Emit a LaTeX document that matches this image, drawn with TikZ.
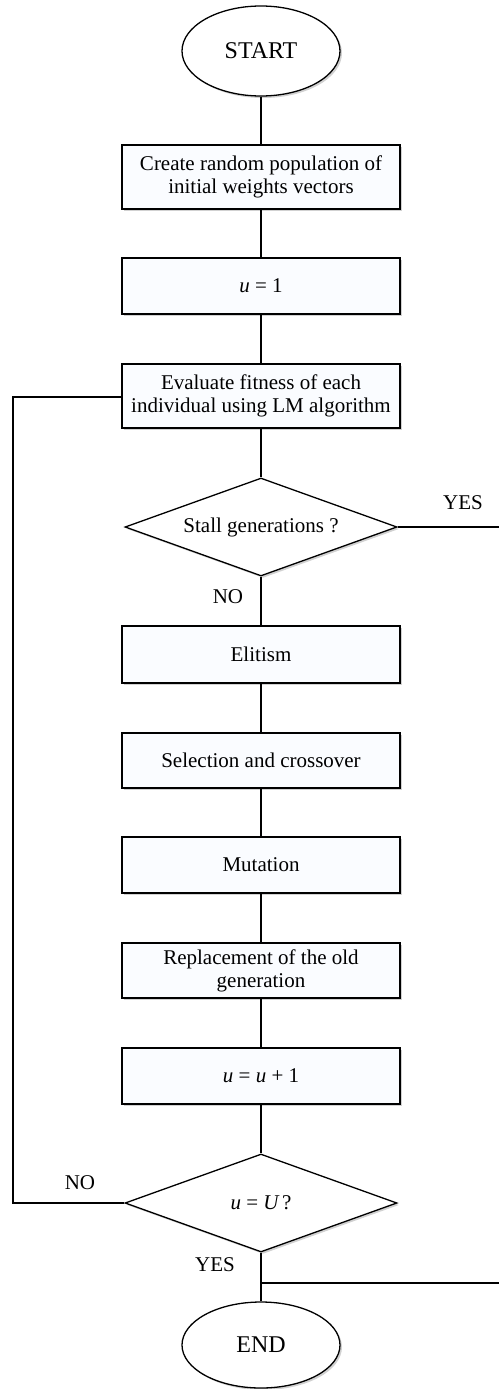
\documentclass[tikz,border=0pt]{standalone}
\usepackage{fontspec}
\setmainfont{Liberation Serif}
\usetikzlibrary{shapes.geometric,shadows}
\definecolor{boxfill}{HTML}{FAFCFF}
\begin{document}
\begin{tikzpicture}[x=1pt,y=-1pt,
  every node/.style={font=\fontsize{21}{23}\selectfont},
  line/.style={line width=1.3pt},
  shade/.style={drop shadow={shadow xshift=2pt,shadow yshift=-2pt,fill=black!30,opacity=0.6}},
  proc/.style={draw,line width=1.3pt,fill=boxfill,shade,rectangle,minimum width=278pt,align=center,inner sep=0pt},
  term/.style={draw,line width=1.3pt,fill=white,shade,ellipse,minimum width=158pt,inner sep=0pt,font=\fontsize{24}{26}\selectfont},
  dec/.style={draw,line width=1.3pt,fill=white,shade,diamond,aspect=2.78,inner sep=0pt,minimum width=272pt,minimum height=98pt},
  lab/.style={inner sep=0pt}]
\useasboundingbox (0,0) rectangle (499,1389);
\node[term,minimum height=90pt] (start) at (261,51) {START};
\node[proc,minimum height=64pt] (create) at (261,177) {Create random population of\\initial weights vectors};
\node[proc,minimum height=56pt] (u1) at (261,286) {{\itshape u} = 1};
\node[proc,minimum height=64pt] (eval) at (261,396) {Evaluate fitness of each\\individual using LM algorithm};
\node[dec] (stall) at (261,527) {Stall generations ?};
\node[proc,minimum height=57pt] (elit) at (261,654.5) {Elitism};
\node[proc,minimum height=55pt] (sel) at (261,760.5) {Selection and crossover};
\node[proc,minimum height=56pt] (mut) at (261,865) {Mutation};
\node[proc,minimum height=55pt] (rep) at (261,970.5) {Replacement of the old\\generation};
\node[proc,minimum height=56pt] (uinc) at (261,1076) {{\itshape u} = {\itshape u} + 1};
\node[dec] (check) at (261,1203) {{\itshape u} = {\itshape U}\,?};
\node[term,minimum height=86pt] (end) at (261,1345) {END};

\coordinate (loopL1) at (13,1203);
\coordinate (loopL2) at (13,397);
\coordinate (yesR) at (499,527);
\coordinate (join) at (261,1283);
\coordinate (joinR) at (499,1283);

\draw[line] (start) -- (create);
\draw[line] (create) -- (u1);
\draw[line] (u1) -- (eval);
\draw[line] (eval) -- (stall);
\draw[line] (stall) -- (elit);
\draw[line] (elit) -- (sel);
\draw[line] (sel) -- (mut);
\draw[line] (mut) -- (rep);
\draw[line] (rep) -- (uinc);
\draw[line] (uinc) -- (check);
\draw[line] (check) -- (end);
\draw[line] (stall.east) -- (yesR);
\draw[line] (check.west) -- (loopL1) -- (loopL2) -- (eval.west |- loopL2);
\draw[line] (join) -- (joinR);

\node[lab] at (463,503) {YES};
\node[lab] at (228,597) {NO};
\node[lab] at (80,1183) {NO};
\node[lab] at (215,1265) {YES};
\end{tikzpicture}
\end{document}
